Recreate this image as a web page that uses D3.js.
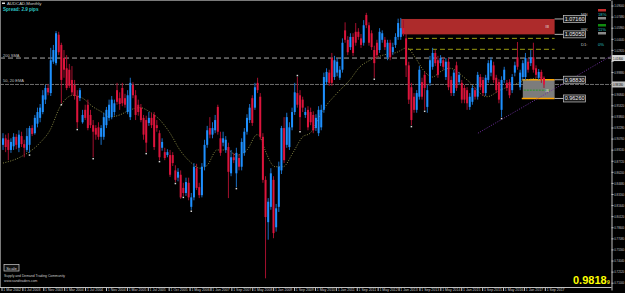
<!DOCTYPE html>
<html>
<head>
<meta charset="utf-8">
<script src="https://cdn.jsdelivr.net/npm/d3@7"></script>
<style>
html, body { margin: 0; padding: 0; background: #000; }
svg { display: block; }
text { font-family: "Liberation Sans", Arial, sans-serif; }
</style>
</head>
<body>
<svg id="chart" width="625" height="293"></svg>
<script>
// monthly bars, [open, high, low, close]
const ohlc = [
[0.899,0.915,0.892,0.908],[0.908,0.913,0.889,0.896],[0.906,0.915,0.878,0.892],[0.892,0.908,0.888,0.903],[0.897,0.915,0.892,0.910],
[0.910,0.914,0.893,0.899],[0.895,0.919,0.889,0.913],[0.911,0.917,0.896,0.900],[0.900,0.906,0.882,0.895],[0.892,0.922,0.889,0.911],
[0.899,0.925,0.888,0.922],[0.922,0.926,0.911,0.914],[0.915,0.940,0.913,0.936],[0.928,0.950,0.923,0.944],[0.936,0.955,0.930,0.950],
[0.944,0.974,0.941,0.967],[0.961,0.981,0.955,0.977],[0.977,0.982,0.967,0.971],[0.970,1.032,0.966,1.015],[1.013,1.036,1.010,1.029],
[1.011,1.055,1.008,1.052],[1.050,1.054,1.022,1.026],[1.036,1.039,0.956,0.988],[1.018,1.029,0.991,1.002],[1.004,1.022,0.974,0.977],
[1.002,1.010,0.977,0.980],[0.988,1.007,0.967,0.971],[0.981,0.988,0.961,0.966],[0.966,0.974,0.922,0.930],[0.963,0.977,0.959,0.974],
[0.930,0.947,0.928,0.940],[0.947,0.954,0.933,0.936],[0.954,0.961,0.919,0.922],[0.940,0.947,0.922,0.926],[0.926,0.933,0.882,0.917],
[0.922,0.926,0.906,0.913],[0.923,0.930,0.906,0.910],[0.910,0.926,0.899,0.922],[0.910,0.943,0.906,0.937],[0.926,0.951,0.922,0.947],
[0.936,0.961,0.932,0.954],[0.937,0.966,0.934,0.961],[0.944,0.961,0.939,0.956],[0.974,0.984,0.954,0.958],[0.963,0.971,0.947,0.955],
[0.977,0.984,0.952,0.956],[0.963,0.969,0.950,0.954],[0.944,0.974,0.941,0.967],[0.937,0.991,0.933,0.984],[0.981,0.985,0.963,0.967],
[0.967,0.974,0.933,0.940],[0.954,0.961,0.939,0.944],[0.950,0.955,0.930,0.933],[0.936,0.940,0.906,0.913],[0.933,0.939,0.889,0.902],
[0.929,0.944,0.925,0.936],[0.936,0.943,0.922,0.926],[0.940,0.944,0.892,0.896],[0.926,0.933,0.917,0.922],[0.915,0.919,0.878,0.882],
[0.895,0.908,0.891,0.903],[0.889,0.895,0.878,0.881],[0.885,0.893,0.882,0.889],[0.885,0.892,0.855,0.858],[0.885,0.889,0.870,0.874],
[0.864,0.871,0.848,0.851],[0.854,0.867,0.849,0.862],[0.858,0.864,0.825,0.827],[0.840,0.847,0.829,0.833],[0.833,0.854,0.829,0.848],
[0.847,0.854,0.823,0.827],[0.814,0.833,0.810,0.827],[0.827,0.874,0.823,0.869],[0.867,0.873,0.837,0.840],[0.841,0.847,0.826,0.830],
[0.830,0.874,0.827,0.869],[0.869,0.906,0.864,0.899],[0.899,0.925,0.895,0.919],[0.922,0.937,0.908,0.913],[0.913,0.930,0.908,0.922],
[0.919,0.940,0.915,0.933],[0.951,0.954,0.913,0.917],[0.908,0.917,0.884,0.888],[0.902,0.917,0.897,0.908],[0.892,0.911,0.888,0.906],
[0.896,0.902,0.826,0.862],[0.860,0.892,0.856,0.882],[0.882,0.888,0.874,0.878],[0.860,0.895,0.841,0.888],[0.881,0.886,0.864,0.869],
[0.869,0.908,0.864,0.903],[0.888,0.922,0.884,0.917],[0.917,0.941,0.913,0.936],[0.933,0.955,0.929,0.950],[0.963,0.967,0.925,0.929],
[0.950,0.984,0.947,0.978],[0.984,0.991,0.970,0.974],[0.965,0.970,0.906,0.910],[0.910,0.915,0.847,0.851],[0.851,0.856,0.716,0.800],
[0.793,0.826,0.769,0.821],[0.814,0.867,0.810,0.860],[0.851,0.856,0.771,0.778],[0.786,0.818,0.780,0.812],[0.814,0.876,0.807,0.869],
[0.864,0.925,0.859,0.922],[0.922,0.937,0.874,0.878],[0.899,0.943,0.895,0.937],[0.896,0.930,0.892,0.923],[0.923,0.950,0.919,0.944],
[0.944,0.984,0.940,0.971],[0.970,0.992,0.950,0.954],[0.967,0.974,0.919,0.937],[0.961,0.965,0.944,0.950],[0.940,0.950,0.936,0.944],
[0.947,0.952,0.919,0.923],[0.944,0.950,0.926,0.930],[0.940,0.945,0.915,0.919],[0.922,0.941,0.918,0.936],[0.915,0.952,0.911,0.947],
[0.923,0.954,0.919,0.947],[0.947,0.998,0.943,0.992],[0.985,1.004,0.981,0.999],[0.998,1.002,0.980,0.984],[1.018,1.025,0.980,0.984],
[0.992,1.021,0.988,1.015],[0.998,1.018,0.993,1.013],[0.991,1.007,0.988,1.002],[1.002,1.045,0.998,1.039],[1.056,1.067,1.039,1.043],
[1.043,1.048,1.022,1.026],[1.033,1.052,1.029,1.047],[1.047,1.052,1.021,1.025],[1.054,1.066,1.035,1.039],[1.054,1.059,1.043,1.047],
[1.045,1.051,1.032,1.036],[1.039,1.070,1.035,1.063],[1.077,1.080,1.059,1.063],[1.063,1.067,1.035,1.039],[1.052,1.056,1.029,1.033],
[1.029,1.035,0.991,1.011],[1.039,1.043,1.018,1.022],[1.029,1.059,1.025,1.054],[1.043,1.056,1.039,1.052],[1.043,1.047,1.029,1.033],
[1.019,1.043,1.015,1.039],[1.039,1.043,1.015,1.019],[1.026,1.039,1.022,1.033],[1.036,1.052,1.032,1.047],[1.047,1.072,1.043,1.066],
[1.047,1.073,1.043,1.059],[1.059,1.070,1.048,1.052],[1.045,1.051,0.992,1.008],[1.008,1.013,0.955,0.961],[0.978,0.984,0.926,0.933],
[0.965,0.970,0.943,0.947],[0.947,0.974,0.943,0.970],[0.965,1.007,0.961,1.002],[0.985,0.991,0.961,0.965],[0.995,0.999,0.947,0.977],
[0.951,0.981,0.943,0.974],[0.984,1.021,0.980,1.015],[1.006,1.032,1.002,1.025],[1.025,1.029,1.007,1.011],[1.015,1.021,0.991,0.995],
[1.011,1.022,1.007,1.018],[1.015,1.019,1.002,1.006],[0.992,1.018,0.988,1.013],[1.013,1.018,0.974,0.978],[0.988,0.993,0.966,0.970],
[0.970,1.002,0.966,0.998],[1.008,1.013,0.973,0.977],[0.985,0.999,0.981,0.995],[0.984,0.988,0.956,0.961],[0.977,0.981,0.956,0.961],
[0.974,0.978,0.947,0.956],[0.951,0.970,0.947,0.965],[0.958,0.981,0.954,0.977],[0.974,0.978,0.961,0.965],[0.965,0.999,0.961,0.995],
[0.992,0.996,0.974,0.978],[0.988,0.992,0.966,0.970],[0.970,0.995,0.966,0.991],[0.988,1.015,0.984,1.011],[0.998,1.019,0.993,1.015],
[1.008,1.013,0.984,0.988],[0.991,0.995,0.970,0.974],[0.985,0.989,0.956,0.961],[0.947,0.993,0.937,0.988],[0.988,1.006,0.984,1.002],
[0.984,0.988,0.973,0.977],[0.985,0.989,0.963,0.967],[0.974,0.996,0.970,0.992],[0.998,1.013,0.993,1.008],[1.019,1.040,1.002,1.006],
[0.978,1.002,0.974,0.998],[0.992,1.015,0.988,1.011],[0.992,1.025,0.988,1.018],[1.013,1.018,0.998,1.002],[1.011,1.029,1.007,1.019],
[1.019,1.039,0.998,1.002],[1.004,1.008,0.991,0.995],[0.991,1.003,0.988,0.999],[0.999,1.002,0.984,0.988],[0.991,0.993,0.977,0.9818]
];

// dotted moving average, read at these bar positions
const maIdx = [0,6.4,14,17.7,21.5,24,26.4,30,34,37.7,40,44,48,51.7,55.4,59.2,63,66.7,70.5,74.3,77,80.7,84.5,88,92,95.8,97,98.8,102.6,105.6,109.3,113,115.8,120.7,126,130.8,134.6,138.4,143.3,148.6,152.3,155.4,158.4,162,164.8,168.5,175,182.5,187.4,192.3,197.6,203.6];
const maVal = [0.874,0.882,0.902,0.919,0.951,0.963,0.967,0.963,0.951,0.943,0.937,0.940,0.947,0.950,0.944,0.933,0.915,0.892,0.876,0.867,0.871,0.892,0.892,0.885,0.892,0.913,0.910,0.892,0.869,0.869,0.888,0.910,0.915,0.947,0.970,0.988,1.006,1.015,1.022,1.026,1.032,1.019,1.002,0.992,0.999,1.004,0.988,0.965,0.974,0.981,0.988,0.992];

// fractal dots
const fractIdx = [10,22,28,34,54,59,65,68,71,88,111,112,140,154,159,188];
const fractVal = [0.885,0.954,0.920,0.880,0.887,0.876,0.846,0.827,0.808,0.839,0.994,0.917,0.989,0.924,0.945,0.935];

// supply / demand zones
const zoneTop = [1.0716, 0.9883];
const zoneBottom = [1.0505, 0.9626];
const zoneFrom = [150, 196];
const zoneTo = 208;
const olivePrices = [1.045, 1.030];
const labelPrices = [1.0716, 1.0505, 0.9883, 0.9626];
const smaPrice = 1.018;
const bidPrice = 0.9818;
const trendIdx = [179.1, 229.3];
const trendVal = [0.915, 1.021];

const priceTicks = [1.0900,1.0748,1.0596,1.0444,1.0292,1.0140,0.9988,0.9836,0.9684,0.9532,0.9380,0.9228,0.9076,0.8924,0.8772,0.8620,0.8468,0.8316,0.8164,0.8012,0.7860,0.7708,0.7556,0.7404,0.7252,0.7100];
const dateLabels = ["1 Mar 2002","1 Jul 2003","1 Nov 2003","1 Mar 2004","1 Jul 2004","1 Nov 2004","1 Mar 2005","1 Jul 2005","1 Oct 2005","1 May 2006","1 Jan 2007","1 Sep 2007","1 May 2008","1 Jan 2009","1 Sep 2009","1 May 2010","1 Jan 2011","1 Sep 2011","1 May 2012","1 Jan 2013","1 Sep 2013","1 May 2014","1 Jan 2015","1 Sep 2015","1 May 2016","1 Jan 2017","1 Sep 2017"];
const dateStep = 7.88;

const plotW = 611, plotH = 287;
const svg = d3.select("#chart");
svg.append("rect").attr("width", 625).attr("height", 293).attr("fill", "#000");

const x = d3.scaleLinear().domain([0, ohlc.length - 1]).range([3, 544]);
const y = d3.scaleLinear().domain([0.700, 1.0976]).range([290, 0]);

svg.append("clipPath").attr("id", "plot")
    .append("rect").attr("width", plotW).attr("height", plotH);
const g = svg.append("g").attr("clip-path", "url(#plot)");

// level lines
g.append("line").attr("x1", 0).attr("x2", plotW)
    .attr("y1", y(smaPrice)).attr("y2", y(smaPrice))
    .attr("stroke", "#a8a8a8").attr("stroke-dasharray", "5,3");
g.append("line").attr("x1", 0).attr("x2", plotW)
    .attr("y1", y(bidPrice)).attr("y2", y(bidPrice))
    .attr("stroke", "#6e6e6e").attr("stroke-dasharray", "4,1");

// zones
g.append("rect")
    .attr("x", x(zoneFrom[0])).attr("width", x(zoneTo) - x(zoneFrom[0]))
    .attr("y", y(zoneTop[0])).attr("height", y(zoneBottom[0]) - y(zoneTop[0]))
    .attr("fill", "#ad2b2b");
g.append("rect")
    .attr("x", x(zoneFrom[1])).attr("width", x(zoneTo) - x(zoneFrom[1]))
    .attr("y", y(zoneTop[1])).attr("height", y(zoneBottom[1]) - y(zoneTop[1]))
    .attr("fill", "#7c7c7c");
[zoneTop[1], zoneBottom[1]].forEach(p => {
    g.append("line").attr("x1", x(zoneFrom[1]) - 1).attr("x2", x(zoneTo))
        .attr("y1", y(p)).attr("y2", y(p))
        .attr("stroke", "#ffa500").attr("stroke-width", 1.5);
});
g.append("line").attr("x1", x(zoneFrom[1]) + 1).attr("x2", x(zoneTo) - 4)
    .attr("y1", y(0.974)).attr("y2", y(0.974))
    .attr("stroke", "#2a9a2a").attr("stroke-dasharray", "2,1");
olivePrices.forEach(p => {
    g.append("line").attr("x1", x(152.7)).attr("x2", x(zoneTo))
        .attr("y1", y(p)).attr("y2", y(p))
        .attr("stroke", "#9a9a10").attr("stroke-dasharray", "5,3");
});
g.append("text").attr("x", x(zoneTo) - 9).attr("y", y(1.059))
    .attr("fill", "#e8e8e8").attr("font-size", "4px").text("III");
g.append("text").attr("x", x(zoneTo) - 9).attr("y", y(0.971))
    .attr("fill", "#e8e8e8").attr("font-size", "4px").text("III");

// moving average
const ma = maIdx.map((d, i) => [d, maVal[i]]);
g.append("path").datum(ma)
    .attr("fill", "none").attr("stroke", "#8a8a44").attr("stroke-width", 1)
    .attr("stroke-dasharray", "1,1.5")
    .attr("d", d3.line().x(d => x(d[0])).y(d => y(d[1])).curve(d3.curveMonotoneX));

// candles
const upCol = "#1e90ff", dnCol = "#dc143c";
const bars = g.selectAll("g.bar").data(ohlc).join("g").attr("class", "bar");
bars.append("line")
    .attr("x1", (d, i) => x(i)).attr("x2", (d, i) => x(i))
    .attr("y1", d => y(Math.max(d[1], d[0], d[3])))
    .attr("y2", d => y(Math.min(d[2], d[0], d[3])))
    .attr("stroke", d => d[3] >= d[0] ? "#1a6fc4" : "#a4102e")
    .attr("stroke-width", 1);
bars.append("rect")
    .attr("x", (d, i) => x(i) - 1).attr("width", 2)
    .attr("y", d => y(Math.max(d[0], d[3])))
    .attr("height", d => Math.max(1, Math.abs(y(d[0]) - y(d[3]))))
    .attr("fill", d => d[3] >= d[0] ? upCol : dnCol);

// fractals
g.selectAll("rect.fr").data(fractIdx).join("rect").attr("class", "fr")
    .attr("x", d => x(d) - 0.75).attr("y", (d, i) => y(fractVal[i]) - 0.75)
    .attr("width", 1.5).attr("height", 1.5).attr("fill", "#dcdcdc");

// trend line
g.append("line")
    .attr("x1", x(trendIdx[0])).attr("y1", y(trendVal[0]))
    .attr("x2", x(trendIdx[1])).attr("y2", y(trendVal[1]))
    .attr("stroke", "#7030a0").attr("stroke-dasharray", "1,1.5");

// price labels on zones
labelPrices.forEach(p => {
    const ly = y(p);
    g.append("line").attr("x1", x(zoneTo)).attr("x2", x(zoneTo) + 9)
        .attr("y1", ly).attr("y2", ly).attr("stroke", "#b0b0b0");
    g.append("rect").attr("x", x(zoneTo) + 9).attr("y", ly - 3.5)
        .attr("width", 22).attr("height", 7)
        .attr("fill", "#1a1a1a").attr("stroke", "#c8c8c8").attr("stroke-width", 0.7);
    g.append("text").attr("x", x(zoneTo) + 20).attr("y", ly + 2)
        .attr("text-anchor", "middle").attr("fill", "#f0f0f0")
        .attr("font-size", "5.5px").text(d3.format(".5f")(p));
});

// level captions
svg.append("text").attr("x", 3).attr("y", y(smaPrice) - 1.5)
    .attr("fill", "#c0c0c0").attr("font-size", "4px").text("200 SMA");
svg.append("text").attr("x", 3).attr("y", y(bidPrice) - 2)
    .attr("fill", "#c0c0c0").attr("font-size", "4px").text("50, 20 EMA");

// frame
svg.append("line").attr("x1", 0.5).attr("x2", 0.5).attr("y1", 0).attr("y2", plotH)
    .attr("stroke", "#7a7a7a");
svg.append("line").attr("x1", 0).attr("x2", plotW).attr("y1", 0.5).attr("y2", 0.5)
    .attr("stroke", "#7a7a7a");

// right axis; labels next to highlighted prices are left out
const marked = [smaPrice, bidPrice];
const yAxis = d3.axisRight(y).tickValues(priceTicks)
    .tickSize(2).tickSizeOuter(0).tickPadding(0.8)
    .tickFormat(d3.format(".5f"));
svg.append("g").attr("transform", `translate(${plotW + 0.5},0)`).call(yAxis)
    .call(a => a.select(".domain").attr("stroke", "#c0c0c0"))
    .call(a => a.selectAll(".tick line").attr("stroke", "#c0c0c0"))
    .call(a => a.selectAll(".tick text")
        .attr("fill", "#c8c8c8").attr("font-size", "3.9px")
        .attr("textLength", 10).attr("lengthAdjust", "spacingAndGlyphs")
        .attr("display", d => marked.some(m => Math.abs(y(m) - y(d)) < 5) ? "none" : null));

[[smaPrice, "#d8d8d8"], [bidPrice, "#c0c0c0"]].forEach(([p, c]) => {
    svg.append("rect").attr("x", plotW + 1).attr("y", y(p) - 3)
        .attr("width", 13).attr("height", 6).attr("fill", c);
    svg.append("text").attr("x", plotW + 2).attr("y", y(p) + 1.5)
        .attr("fill", "#000").attr("font-size", "3.9px")
        .attr("textLength", 10).attr("lengthAdjust", "spacingAndGlyphs")
        .text(d3.format(".5f")(p));
});

// bottom axis
svg.append("line").attr("x1", 0).attr("x2", plotW + 0.5).attr("y1", plotH + 0.5).attr("y2", plotH + 0.5)
    .attr("stroke", "#c0c0c0");
dateLabels.forEach((t, k) => {
    const tx = x(k * dateStep) - 1;
    svg.append("line").attr("x1", tx).attr("x2", tx).attr("y1", plotH).attr("y2", plotH + 4)
        .attr("stroke", "#c0c0c0");
    svg.append("text").attr("x", tx + 1.3).attr("y", plotH + 4.4)
        .attr("fill", "#c8c8c8").attr("font-size", "3.5px").text(t);
});

// header
svg.append("rect").attr("x", 2).attr("y", 2.5).attr("width", 3).attr("height", 1.5).attr("fill", "#e0e0e0");
svg.append("text").attr("x", 7).attr("y", 5).attr("fill", "#d0d0d0")
    .attr("font-size", "4.3px").text("AUDCAD,Monthly");
svg.append("text").attr("x", 3).attr("y", 10.5).attr("fill", "#2ec4c4")
    .attr("font-size", "4.6px").attr("font-weight", "bold")
    .attr("font-family", "DejaVu Sans Mono, monospace").text("Spread: 2.9 pips");

// timeframe panel
const tfNames = ["MN", "WK", "D1:"];
const tfPct = ["18%", "11%", "0%"];
const tfColor = ["#c42b2b", "#108a10", null];
tfNames.forEach((n, i) => {
    const by = 9 + i * 15;
    if (tfColor[i]) {
        svg.append("rect").attr("x", 598).attr("y", by).attr("width", 8).attr("height", 2.5).attr("fill", tfColor[i]);
        svg.append("rect").attr("x", 598).attr("y", by + 8).attr("width", 8).attr("height", 2.5).attr("fill", "#8a8a8a");
    }
    svg.append("text").attr("x", 581).attr("y", by + 6.5).attr("fill", "#c0c0c0")
        .attr("font-size", "4.2px").text(n);
    svg.append("text").attr("x", 598).attr("y", by + 6.5).attr("fill", "#2ec4c4")
        .attr("font-size", "4.2px").text(tfPct[i]);
});

// footer
svg.append("rect").attr("x", 4).attr("y", 264.5).attr("width", 15).attr("height", 6.5)
    .attr("fill", "#111").attr("stroke", "#d0d0d0").attr("stroke-width", 0.7);
svg.append("text").attr("x", 11.5).attr("y", 269.5).attr("text-anchor", "middle")
    .attr("fill", "#d8d8d8").attr("font-size", "4.2px").text("Scale");
svg.append("text").attr("x", 4).attr("y", 277).attr("fill", "#c8c8c8")
    .attr("font-size", "3.4px").text("Supply and Demand Trading Community");
svg.append("text").attr("x", 4).attr("y", 281.5).attr("fill", "#c8c8c8")
    .attr("font-size", "3.4px").text("www.sandtraders.com");

svg.append("text").attr("x", 573).attr("y", 284).attr("fill", "#ffff00")
    .attr("font-size", "11px").attr("font-weight", "bold").text(d3.format(".4f")(bidPrice));
svg.append("text").attr("x", 607).attr("y", 284).attr("fill", "#ffff00")
    .attr("font-size", "5px").attr("font-weight", "bold").text("9");
</script>
</body>
</html>
